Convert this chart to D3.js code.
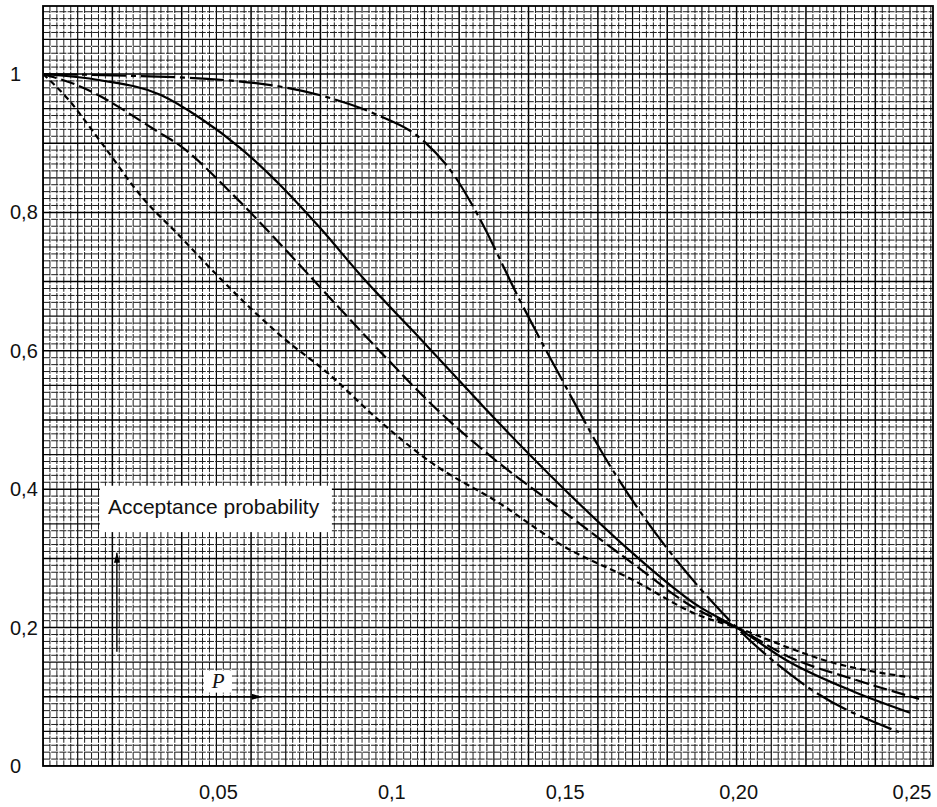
<!DOCTYPE html>
<html>
<head>
<meta charset="utf-8">
<script src="https://cdn.jsdelivr.net/npm/d3@7/dist/d3.min.js"></script>
<style>
  html, body { margin: 0; padding: 0; background: #fff; }
  svg { display: block; }
</style>
</head>
<body>
<svg id="chart" width="937" height="807"></svg>
<script>
// ---------- DATA ----------
const xTickValues = [0.05, 0.1, 0.15, 0.20, 0.25];
const xTickLabels = ["0,05", "0,1", "0,15", "0,20", "0,25"];
const yTickValues = [0, 0.2, 0.4, 0.6, 0.8, 1];
const yTickLabels = ["0", "0,2", "0,4", "0,6", "0,8", "1"];

// Short-dashed curve
const shortP  = [0, 0.007, 0.0165, 0.0289, 0.0396, 0.0512, 0.0685, 0.083, 0.0954, 0.1118, 0.1312, 0.1503, 0.1697, 0.189, 0.2, 0.215, 0.2246, 0.25];
const shortPa = [1, 0.965, 0.903, 0.82, 0.765, 0.704, 0.622, 0.564, 0.506, 0.439, 0.381, 0.317, 0.270, 0.218, 0.2, 0.171, 0.154, 0.128];

// Long-dashed curve
const longP  = [0, 0.0098, 0.033, 0.0396, 0.0549, 0.0705, 0.083, 0.0974, 0.1147, 0.1312, 0.1503, 0.1697, 0.189, 0.2, 0.215, 0.234, 0.2526];
const longPa = [1, 0.984, 0.917, 0.896, 0.825, 0.743, 0.675, 0.598, 0.51, 0.439, 0.367, 0.294, 0.225, 0.2, 0.158, 0.125, 0.097];

// Solid curve
const solidP  = [0, 0.0165, 0.0338, 0.0454, 0.0569, 0.0685, 0.080, 0.0925, 0.107, 0.1263, 0.1312, 0.1503, 0.1697, 0.189, 0.2, 0.215, 0.234, 0.25];
const solidPa = [1, 0.991, 0.970, 0.936, 0.893, 0.839, 0.777, 0.704, 0.627, 0.523, 0.497, 0.400, 0.309, 0.231, 0.2, 0.151, 0.107, 0.077];

// Dash-dot curve
const dotP  = [0, 0.02, 0.053, 0.083, 0.0954, 0.1098, 0.1185, 0.1254, 0.1373, 0.1514, 0.1618, 0.1717, 0.1832, 0.1928, 0.2, 0.212, 0.2208, 0.2468];
const dotPa = [1, 0.998, 0.991, 0.965, 0.943, 0.903, 0.854, 0.796, 0.675, 0.542, 0.448, 0.371, 0.294, 0.238, 0.2, 0.146, 0.113, 0.049];

const seriesNames = ["short", "long", "solid", "dashdot"];

// ---------- LAYOUT ----------
const svg = d3.select("#chart");
const plotL = 43, plotR = 933, plotT = 6, plotB = 766;

const x = d3.scaleLinear().domain([0, 0.25]).range([plotL, 910]);
const y = d3.scaleLinear().domain([0, 1]).range([plotB, 74]);
const xMax = x.invert(plotR), yMax = y.invert(plotT);

const defs = svg.append("defs");
defs.append("clipPath").attr("id", "plotClip")
  .append("rect").attr("x", plotL).attr("y", plotT)
  .attr("width", plotR - plotL).attr("height", plotB - plotT);

// ---------- GRAPH-PAPER GRID ----------
const grid = svg.append("g").attr("clip-path", "url(#plotClip)");
const nx = Math.floor(xMax / 0.002 + 1e-6);
const ny = Math.floor(yMax / 0.01 + 1e-6);
function gStyle(k) {
  if (k % 10 === 0) return { c: "#000", w: 1.5, d: null };
  if (k % 5 === 0) return { c: "#0a0a0a", w: 1.2, d: null };
  return { c: "#1e1e1e", w: 1.0, d: "7,1.2" };
}
d3.range(0, nx + 1).forEach(k => {
  const s = gStyle(k);
  const px = x(k * 0.002);
  grid.append("line").attr("x1", px).attr("x2", px).attr("y1", plotT).attr("y2", plotB)
    .attr("stroke", s.c).attr("stroke-width", s.w)
    .attr("stroke-dasharray", s.d);
});
d3.range(0, ny + 1).forEach(k => {
  const s = gStyle(k);
  const py = y(k * 0.01);
  grid.append("line").attr("x1", plotL).attr("x2", plotR).attr("y1", py).attr("y2", py)
    .attr("stroke", s.c).attr("stroke-width", s.w)
    .attr("stroke-dasharray", s.d);
});

// frame
svg.append("rect").attr("x", plotL).attr("y", plotT)
  .attr("width", plotR - plotL).attr("height", plotB - plotT)
  .attr("fill", "none").attr("stroke", "#000").attr("stroke-width", 1.8);

// ---------- CURVES ----------
const line = d3.line().x(d => x(d[0])).y(d => y(d[1])).curve(d3.curveMonotoneX);
const curves = [
  { name: seriesNames[0], p: shortP, pa: shortPa, dash: "6,4" },
  { name: seriesNames[1], p: longP,  pa: longPa,  dash: "14,5" },
  { name: seriesNames[2], p: solidP, pa: solidPa, dash: null },
  { name: seriesNames[3], p: dotP,   pa: dotPa,   dash: "34,5,5,5" }
];
const cg = svg.append("g").attr("clip-path", "url(#plotClip)");
curves.forEach(c => {
  const pts = c.p.map((v, i) => [v, c.pa[i]]);
  cg.append("path").datum(pts)
    .attr("d", line)
    .attr("fill", "none")
    .attr("stroke", "#000")
    .attr("stroke-width", 2.2)
    .attr("stroke-dasharray", c.dash);
});

// ---------- AXES LABELS ----------
const font = "Liberation Sans, Arial, Helvetica, sans-serif";
svg.append("g").selectAll("text").data(xTickValues).join("text")
  .attr("x", d => x(d) + 2)
  .attr("y", 799)
  .attr("text-anchor", "middle")
  .attr("font-family", font).attr("font-size", 20)
  .attr("fill", "#111")
  .text((d, i) => xTickLabels[i]);

svg.append("g").selectAll("text").data(yTickValues).join("text")
  .attr("x", 10)
  .attr("y", d => y(d) + 7)
  .attr("text-anchor", "start")
  .attr("font-family", font).attr("font-size", 20)
  .attr("fill", "#111")
  .text((d, i) => yTickLabels[i]);

// ---------- ANNOTATIONS ----------
defs.append("marker").attr("id", "arrowHead")
  .attr("viewBox", "0 0 10 6").attr("refX", 10).attr("refY", 3)
  .attr("markerWidth", 10).attr("markerHeight", 6)
  .attr("markerUnits", "userSpaceOnUse").attr("orient", "auto")
  .append("path").attr("d", "M0,0 L10,3 L0,6 Z").attr("fill", "#000");

// "Acceptance probability" label with white background
const boxP0 = 0.0164, boxP1 = 0.0833, boxA0 = 0.405, boxA1 = 0.338;
svg.append("rect")
  .attr("x", x(boxP0)).attr("y", y(boxA0))
  .attr("width", x(boxP1) - x(boxP0)).attr("height", y(boxA1) - y(boxA0))
  .attr("fill", "#fff");
svg.append("text")
  .attr("x", x(boxP0) + 8).attr("y", y(boxA0) + 28)
  .attr("font-family", font).attr("font-size", 21).attr("fill", "#111")
  .text("Acceptance probability");

// vertical arrow
svg.append("line")
  .attr("x1", x(0.0213)).attr("x2", x(0.0213))
  .attr("y1", y(0.165)).attr("y2", y(0.308))
  .attr("stroke", "#000").attr("stroke-width", 1.4)
  .attr("marker-end", "url(#arrowHead)");

// P arrow
svg.append("rect")
  .attr("x", x(0.0464)).attr("y", y(0.138))
  .attr("width", x(0.0545) - x(0.0464)).attr("height", y(0.106) - y(0.138))
  .attr("fill", "#fff");
svg.append("text")
  .attr("x", x(0.0505)).attr("y", y(0.112))
  .attr("text-anchor", "middle")
  .attr("font-family", "Liberation Serif, Times New Roman, serif")
  .attr("font-style", "italic").attr("font-size", 21).attr("fill", "#111")
  .text("P");
svg.append("line")
  .attr("x1", x(0.0395)).attr("x2", x(0.0631))
  .attr("y1", y(0.1)).attr("y2", y(0.1))
  .attr("stroke", "#000").attr("stroke-width", 1.4)
  .attr("marker-end", "url(#arrowHead)");
</script>
</body>
</html>
